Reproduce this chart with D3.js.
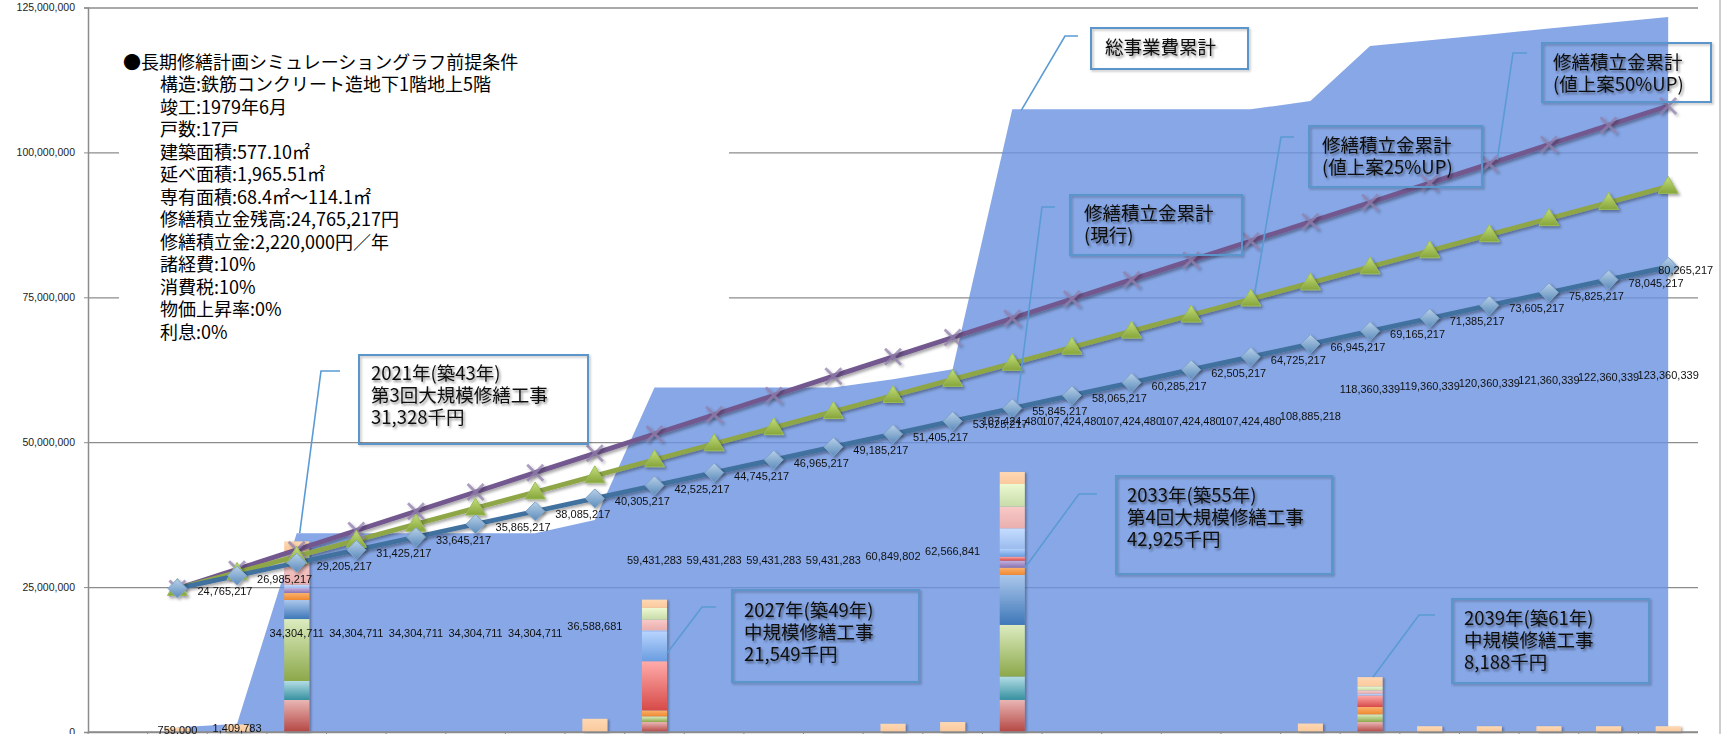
<!DOCTYPE html>
<html><head><meta charset="utf-8">
<script src="https://cdn.jsdelivr.net/npm/d3@7"></script>
<style>
html,body{margin:0;padding:0;background:#fff;}
svg{display:block;}
</style></head><body>
<svg id="chart" width="1727" height="734"></svg>
<script>
// ---------- DATA ----------
const categories = ["", "2019","2020","2021","2022","2023","2024","2025","2026","2027","2028","2029","2030","2031","2032","2033","2034","2035","2036","2037","2038","2039","2040","2041","2042","2043","2044"];
const years = ["2019","2020","2021","2022","2023","2024","2025","2026","2027","2028","2029","2030","2031","2032","2033","2034","2035","2036","2037","2038","2039","2040","2041","2042","2043","2044"];

// 総事業費累計 (area)
const totalCumulative = [759000,1409783,34304711,34304711,34304711,34304711,34304711,36588681,59431283,59431283,59431283,59431283,60849802,62566841,107424480,107424480,107424480,107424480,107424480,108885218,118360339,119360339,120360339,121360339,122360339,123360339];

// 修繕積立金累計（現行）
const reserveCurrent = [24765217,26985217,29205217,31425217,33645217,35865217,38085217,40305217,42525217,44745217,46965217,49185217,51405217,53625217,55845217,58065217,60285217,62505217,64725217,66945217,69165217,71385217,73605217,75825217,78045217,80265217];
// 修繕積立金累計（値上案25%UP）
const reserve25 = [24765217,27540217,30315217,33090217,35865217,38640217,41415217,44190217,46965217,49740217,52515217,55290217,58065217,60840217,63615217,66390217,69165217,71940217,74715217,77490217,80265217,83040217,85815217,88590217,91365217,94140217];
// 修繕積立金累計（値上案50%UP）
const reserve50 = [24765217,28095217,31425217,34755217,38085217,41415217,44745217,48075217,51405217,54735217,58065217,61395217,64725217,68055217,71385217,74715217,78045217,81375217,84705217,88035217,91365217,94695217,98025217,101355217,104685217,108015217];

// yearly repair cost by work item (stacked columns, bottom -> top)
const costS1  = [0,0,5520000,0,0,0,0,0,1720000,0,0,0,0,0,5550000,0,0,0,0,0,1720000,0,0,0,0,0];
const costS2  = [0,0,3280000,0,0,0,0,0,0,0,0,0,0,0,4020000,0,0,0,0,0,0,0,0,0,0,0];
const costS3  = [0,0,10690000,0,0,0,0,0,980000,0,0,0,0,0,8910000,0,0,0,0,0,1330000,0,0,0,0,0];
const costS4  = [0,0,3280000,0,0,0,0,0,0,0,0,0,0,0,8620000,0,0,0,0,0,0,0,0,0,0,0];
const costS5  = [0,0,1210000,0,0,0,0,0,1030000,0,0,0,0,0,1260000,0,0,0,0,0,1260000,0,0,0,0,0];
const costS6  = [0,0,860000,0,0,0,0,0,0,0,0,0,0,0,1210000,0,0,0,0,0,0,0,0,0,0,0];
const costS7  = [0,0,0,0,0,0,0,0,8480000,0,0,0,0,0,690000,0,0,0,0,0,2010000,0,0,0,0,0];
const costS8  = [0,0,0,0,0,0,0,0,5170000,0,0,0,0,0,1430000,0,0,0,0,0,0,0,0,0,0,0];
const costS9  = [0,0,570000,0,0,0,0,0,170000,0,0,0,0,0,3450000,0,0,0,0,0,290000,0,0,0,0,0];
const costS10 = [0,0,3600000,0,0,0,0,0,1840000,0,0,0,0,0,3740000,0,0,0,0,0,570000,0,0,0,0,0];
const costS11 = [0,0,2200000,0,0,0,0,0,2020000,0,0,0,0,0,3910000,0,0,0,0,0,690000,0,0,0,0,0];
const costS12 = [759000,1300000,1680000,0,0,0,0,2280000,1430000,0,0,0,1420000,1720000,2070000,0,0,0,0,1460000,1600000,1000000,1000000,1000000,1000000,1000000];

const yTickValues = [0,25000000,50000000,75000000,100000000,125000000];

const premiseLines = [
  "●長期修繕計画シミュレーショングラフ前提条件",
  "構造:鉄筋コンクリート造地下1階地上5階",
  "竣工:1979年6月",
  "戸数:17戸",
  "建築面積:577.10㎡",
  "延べ面積:1,965.51㎡",
  "専有面積:68.4㎡～114.1㎡",
  "修繕積立金残高:24,765,217円",
  "修繕積立金:2,220,000円／年",
  "諸経費:10%",
  "消費税:10%",
  "物価上昇率:0%",
  "利息:0%"
];

// ---------- SETUP ----------
const svg = d3.select("#chart");
const pLeft = 88, pRight = 1698, pTop = 7.5, pBottom = 732;
const x = d3.scaleBand().domain(categories).range([pLeft, pRight]).paddingInner(0).paddingOuter(0);
const y = d3.scaleLinear().domain([0, 125000000]).range([pBottom, pTop]);
const cx = yr => x(yr) + x.bandwidth() / 2;
const fmt = d3.format(",");
const NUMFONT = "'Liberation Sans', Arial, sans-serif";
const JPFONT = "'Noto Sans CJK JP', 'Noto Sans', sans-serif";

const defs = svg.append("defs");
function shadow(id, dx, dy, sd, op) {
  const f = defs.append("filter").attr("id", id).attr("x", "-30%").attr("y", "-30%").attr("width", "160%").attr("height", "160%");
  f.append("feDropShadow").attr("dx", dx).attr("dy", dy).attr("stdDeviation", sd).attr("flood-color", "#000").attr("flood-opacity", op);
}
shadow("lineShadow", 2, 2, 1.5, 0.35);
shadow("barShadow", 2, 1, 1.2, 0.3);
shadow("textShadow", 1.5, 2, 1.2, 0.45);
shadow("boxShadow", 1.5, 1.5, 1, 0.25);

function grad(id, c1, c2) {
  const g = defs.append("linearGradient").attr("id", id).attr("x1", 0).attr("y1", 0).attr("x2", 0).attr("y2", 1);
  g.append("stop").attr("offset", "0%").attr("stop-color", c1);
  g.append("stop").attr("offset", "100%").attr("stop-color", c2);
}

// ---------- GRIDLINES ----------
const gridG = svg.append("g").attr("transform", `translate(${pLeft},0)`)
  .call(d3.axisLeft(y).tickValues(yTickValues).tickSize(-(pRight - pLeft)).tickFormat(""));
gridG.select(".domain").remove();
gridG.selectAll(".tick line").attr("stroke", "#8c8c8c").attr("stroke-width", 1.3);

// premise text box (white fill hides gridlines)
svg.append("rect").attr("x", 119).attr("y", 40).attr("width", 610).attr("height", 305).attr("fill", "#fff");
const premG = svg.append("g").attr("font-family", JPFONT).attr("font-size", 18).attr("fill", "#000");
premiseLines.forEach((t, i) => {
  premG.append("text").attr("x", i === 0 ? 123 : 160).attr("y", 62 + 22.5 * i + 6.5).text(t);
});

// ---------- AREA ----------
const area = d3.area()
  .x((d, i) => cx(years[i]))
  .y0(y(0))
  .y1(d => y(d));
svg.append("path").datum(totalCumulative).attr("d", area)
  .attr("fill", "rgb(105,145,224)").attr("fill-opacity", 0.8);

// ---------- STACKED BARS ----------
const keys = ["s1","s2","s3","s4","s5","s6","s7","s8","s9","s10","s11","s12"];
const seriesArrays = [costS1,costS2,costS3,costS4,costS5,costS6,costS7,costS8,costS9,costS10,costS11,costS12];
const barColors = [
  ["#e9b6b4","#b44744"], ["#b3dde6","#36909f"], ["#dcecc0","#8ca84a"], ["#abc7ec","#3f78b8"],
  ["#fbb26c","#ef8831"], ["#c4b2de","#8a72b2"], ["#ffacab","#d64a48"], ["#b8d4ff","#6a9de0"],
  ["#c6ddff","#9cbcee"], ["#f8c9c8","#e9afae"], ["#edf9d2","#c7dba8"], ["#fdd8b4","#fbc99c"]
];
keys.forEach((k, i) => grad("g_" + k, barColors[i][0], barColors[i][1]));
const table = years.map((yr, i) => {
  const row = { year: yr };
  keys.forEach((k, j) => row[k] = seriesArrays[j][i]);
  return row;
});
const stacked = d3.stack().keys(keys)(table);
const bw = x.bandwidth() * 0.42;
const barG = svg.append("g").attr("filter", "url(#barShadow)");
stacked.forEach(layer => {
  barG.append("g").attr("fill", `url(#g_${layer.key})`)
    .selectAll("rect").data(layer.filter(d => d[1] - d[0] > 0)).join("rect")
    .attr("x", d => cx(d.data.year) - bw / 2)
    .attr("width", bw)
    .attr("y", d => y(d[1]))
    .attr("height", d => y(d[0]) - y(d[1]));
});

// ---------- LINES ----------
grad("diamondGrad", "#b8d0e8", "#5c8cbc");
grad("triGrad", "#c4df7c", "#86a53a");
const line = d3.line().x((d, i) => cx(years[i])).y(d => y(d));
const linesG = svg.append("g").attr("filter", "url(#lineShadow)");
linesG.append("path").datum(reserve50).attr("d", line).attr("fill", "none").attr("stroke", "#72598f").attr("stroke-width", 4.8);
linesG.append("path").datum(reserve25).attr("d", line).attr("fill", "none").attr("stroke", "#8fa647").attr("stroke-width", 4.8);
linesG.append("path").datum(reserveCurrent).attr("d", line).attr("fill", "none").attr("stroke", "#41719f").attr("stroke-width", 4.8);

const markG = svg.append("g").attr("filter", "url(#lineShadow)");
markG.selectAll(".xm").data(reserve50).join("path").attr("class", "xm")
  .attr("transform", (d, i) => `translate(${cx(years[i])},${y(d)})`)
  .attr("d", "M-8,-8L8,8M-8,8L8,-8")
  .attr("stroke", "#9280ae").attr("stroke-width", 2.8).attr("stroke-opacity", 0.75).attr("fill", "none");
markG.selectAll(".tm").data(reserve25).join("path").attr("class", "tm")
  .attr("transform", (d, i) => `translate(${cx(years[i])},${y(d)})`)
  .attr("d", "M0,-10L10,7L-10,7Z")
  .attr("fill", "url(#triGrad)").attr("stroke", "#9bbb59").attr("stroke-width", 1);
markG.selectAll(".dm").data(reserveCurrent).join("path").attr("class", "dm")
  .attr("transform", (d, i) => `translate(${cx(years[i])},${y(d)})`)
  .attr("d", "M0,-9.5L9.5,0L0,9.5L-9.5,0Z")
  .attr("fill", "url(#diamondGrad)").attr("stroke", "#7ea3c9").attr("stroke-width", 1);

// ---------- AXIS LINES ----------
const yAx = svg.append("g").attr("transform", `translate(${pLeft},0)`)
  .call(d3.axisLeft(y).tickValues(yTickValues).tickSize(4).tickPadding(9).tickFormat(fmt));
yAx.select(".domain").attr("stroke", "#8c8c8c").attr("stroke-width", 1.5);
yAx.selectAll(".tick line").attr("stroke", "#8c8c8c");
yAx.selectAll(".tick text").attr("font-family", NUMFONT).attr("font-size", 10.5).attr("fill", "#222");
svg.append("line").attr("x1", pLeft).attr("x2", pRight).attr("y1", y(0)).attr("y2", y(0)).attr("stroke", "#8c8c8c").attr("stroke-width", 1.5);
svg.append("g").selectAll("line").data(categories).join("line")
  .attr("x1", d => x(d)).attr("x2", d => x(d)).attr("y1", y(0)).attr("y2", y(0) + 5)
  .attr("stroke", "#8c8c8c");

// ---------- DATA LABELS ----------
const labG = svg.append("g").attr("font-family", NUMFONT).attr("font-size", 11).attr("fill", "#111");
labG.selectAll(".al").data(totalCumulative).join("text").attr("class", "al")
  .attr("x", (d, i) => cx(years[i])).attr("y", d => y(d / 2) + 4)
  .attr("text-anchor", "middle").text(d => fmt(d));
labG.selectAll(".bl").data(reserveCurrent).join("text").attr("class", "bl")
  .attr("x", (d, i) => cx(years[i]) + (i === reserveCurrent.length - 1 ? -10 : 20))
  .attr("y", d => y(d) + 7)
  .text(d => fmt(d));

// ---------- CALLOUTS ----------
const iOf = yr => years.indexOf(yr);
const callouts = [
  { lines: ["総事業費累計"], box: [1091, 28, 1248, 69], tx: 1105, ty: 47,
    elbow: [[1078, 36], [1065, 36]], target: () => [cx("2033") + 9, y(totalCumulative[iOf("2033")]) + 1] },
  { lines: ["2021年(築43年)", "第3回大規模修繕工事", "31,328千円"], box: [359, 355, 588, 444], tx: 371, ty: 373,
    elbow: [[340, 371], [321, 371]], target: () => [cx("2021") + 3, y(totalCumulative[iOf("2021")])] },
  { lines: ["2027年(築49年)", "中規模修繕工事", "21,549千円"], box: [732, 590, 919, 682], tx: 744, ty: 610,
    elbow: [[716, 607], [702, 607]], target: () => [cx("2027") + bw / 2, y(13600000)] },
  { lines: ["2033年(築55年)", "第4回大規模修繕工事", "42,925千円"], box: [1116, 476, 1332, 574], tx: 1127, ty: 495,
    elbow: [[1097, 494], [1079, 494]], target: () => [cx("2033") + bw / 2, y(28300000)] },
  { lines: ["2039年(築61年)", "中規模修繕工事", "8,188千円"], box: [1452, 599, 1649, 683], tx: 1464, ty: 618,
    elbow: [[1435, 615], [1419, 615]], target: () => [cx("2039") + 3, y(totalCumulative[iOf("2039")] - totalCumulative[iOf("2038")])] },
  { lines: ["修繕積立金累計", "(現行)"], box: [1070, 195, 1242, 255], tx: 1084, ty: 213,
    elbow: [[1055, 207], [1042, 207]], target: () => [cx("2033") + 5, y(reserveCurrent[iOf("2033")]) - 6] },
  { lines: ["修繕積立金累計", "(値上案25%UP)"], box: [1309, 126, 1482, 187], tx: 1322, ty: 145,
    elbow: [[1294, 137], [1281, 137]], target: () => [cx("2037") + 4, y(reserve25[iOf("2037")]) - 6] },
  { lines: ["修繕積立金累計", "(値上案50%UP)"], box: [1542, 43, 1711, 102], tx: 1553, ty: 62,
    elbow: [[1527, 53], [1513, 53]], target: () => [cx("2041") + 8, y(reserve50[iOf("2041")]) - 4] }
];
const calG = svg.append("g");
callouts.forEach(c => {
  const pts = [...c.elbow, c.target()];
  calG.append("path").attr("d", d3.line()(pts)).attr("fill", "none")
    .attr("stroke", "#5b9bd5").attr("stroke-width", 1.6);
  calG.append("rect").attr("x", c.box[0]).attr("y", c.box[1])
    .attr("width", c.box[2] - c.box[0]).attr("height", c.box[3] - c.box[1])
    .attr("fill", "none").attr("stroke", "#5a96cc").attr("stroke-width", 2)
    .attr("filter", "url(#boxShadow)");
  const tg = calG.append("g").attr("font-family", JPFONT).attr("font-size", 18.5)
    .attr("fill", "#111").attr("filter", "url(#textShadow)");
  c.lines.forEach((t, i) => {
    tg.append("text").attr("x", c.tx).attr("y", c.ty + 22 * i + 6.7).text(t);
  });
});

// chart outer border (right)
svg.append("line").attr("x1", 1720).attr("x2", 1720).attr("y1", 0).attr("y2", 734)
  .attr("stroke", "#bdbdbd").attr("stroke-width", 1.5);
</script>
</body></html>
